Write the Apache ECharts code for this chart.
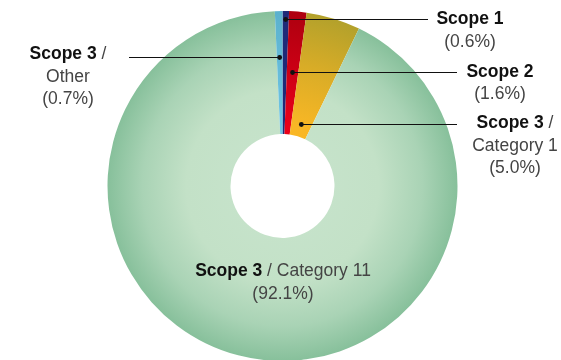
<!DOCTYPE html>
<html>
<head>
<meta charset="utf-8">
<script src="https://cdn.jsdelivr.net/npm/echarts@6/dist/echarts.min.js"></script>
<style>
  html, body { margin: 0; padding: 0; background: #ffffff; }
  #chart { width: 561px; height: 360px; }
</style>
</head>
<body>
<div id="chart"></div>
<script>
// Emission shares by scope (percent of total)
const sliceGroups = ['Scope 1', 'Scope 2', 'Scope 3', 'Scope 3', 'Scope 3'];
const sliceDetails = ['', '', 'Category 1', 'Category 11', 'Other'];
const sliceShares = [0.6, 1.6, 5.0, 92.1, 0.7];

// Ring geometry
const CX = 282.5, CY = 186, R_IN = 52, R_OUT = 175;

function radial(stops) {
  return {
    type: 'radial', x: CX, y: CY, r: R_OUT, global: true,
    colorStops: stops.map(s => ({ offset: s[0], color: s[1] }))
  };
}

const sliceColors = [
  '#1f2a78',
  radial([[0, '#ee0018'], [0.35, '#e8001a'], [1, '#ad000f']]),
  radial([[0, '#fbb924'], [0.35, '#f9b725'], [0.7, '#d8ac27'], [1, '#b3a12b']]),
  radial([[0, '#c8e4cd'], [0.55, '#c3e1c7'], [0.8, '#a9d3b5'], [1, '#87c09b']]),
  radial([[0, '#74c8e6'], [0.35, '#70c5e4'], [1, '#5bb1cd']])
];

// Label block placement: block centre x, top y, leader-line y and far end x
const labelSpots = [
  { x: 470, top: 8.3, lineY: 19, lineEnd: 428, wrap: false },
  { x: 500, top: 60.8, lineY: 72, lineEnd: 457, wrap: false },
  { x: 515, top: 112.3, lineY: 124, lineEnd: 457, wrap: true },
  { x: 283, top: 260.3, lineY: null, lineEnd: null, wrap: false },
  { x: 68, top: 43.3, lineY: 57, lineEnd: 129, wrap: true }
];

const START = 90; // degrees, slices run clockwise from 12 o'clock
const total = sliceShares.reduce((a, b) => a + b, 0);

// Mid angle of a slice, measured clockwise from 12 o'clock (degrees)
function midAngle(i) {
  let before = 0;
  for (let k = 0; k < i; k++) before += sliceShares[k];
  const mid = before + sliceShares[i] / 2;
  let a = mid / total * 360;
  if (a > 180) a -= 360;
  return a;
}

// Point on the slice's mid ray at the height of its leader line
function anchorOf(i) {
  const spot = labelSpots[i];
  const a = midAngle(i) * Math.PI / 180;
  return [CX + (CY - spot.lineY) * Math.tan(a), spot.lineY];
}

function labelText(i) {
  const pct = '{n|(' + sliceShares[i].toFixed(1) + '%)}';
  const head = '{b|' + sliceGroups[i] + '}';
  if (!sliceDetails[i]) return head + '\n' + pct;
  if (labelSpots[i].wrap) return head + '{r| /}\n{r|' + sliceDetails[i] + '}\n' + pct;
  return head + '{r| / ' + sliceDetails[i] + '}\n' + pct;
}

const FONT = '"Liberation Sans", Arial, Helvetica, sans-serif';
const LH = 22.5;

// Leader lines with a dot where they enter their slice
const leaders = [];
sliceShares.forEach((v, i) => {
  const spot = labelSpots[i];
  if (spot.lineY == null) return;
  const p = anchorOf(i);
  leaders.push({
    type: 'line', z: 100, silent: true,
    shape: { x1: p[0], y1: spot.lineY + 0.5, x2: spot.lineEnd, y2: spot.lineY + 0.5 },
    style: { stroke: '#111111', lineWidth: 1 }
  });
  leaders.push({
    type: 'circle', z: 101, silent: true,
    shape: { cx: p[0], cy: p[1] + 0.5, r: 2.4 },
    style: { fill: '#111111' }
  });
});

const chart = echarts.init(document.getElementById('chart'), null, { renderer: 'canvas' });
chart.setOption({
  animation: false,
  backgroundColor: '#ffffff',
  graphic: leaders,
  series: [{
    type: 'pie',
    center: [CX, CY],
    radius: [R_IN, R_OUT],
    startAngle: START,
    clockwise: true,
    avoidLabelOverlap: false,
    silent: true,
    itemStyle: { borderWidth: 0 },
    data: sliceShares.map((v, i) => ({
      name: sliceGroups[i] + (sliceDetails[i] ? ' / ' + sliceDetails[i] : ''),
      value: v,
      itemStyle: { color: sliceColors[i] }
    })),
    label: {
      show: true,
      position: 'outside',
      formatter: p => labelText(p.dataIndex),
      rich: {
        b: { fontFamily: FONT, fontSize: 17.5, fontWeight: 'bold', color: '#111111', lineHeight: LH },
        r: { fontFamily: FONT, fontSize: 17.5, color: '#444444', lineHeight: LH },
        n: { fontFamily: FONT, fontSize: 17.5, color: '#444444', lineHeight: LH }
      }
    },
    labelLine: { show: false },
    labelLayout: params => {
      const spot = labelSpots[params.dataIndex];
      return { x: spot.x, y: spot.top, align: 'center', verticalAlign: 'top' };
    }
  }]
});
</script>
</body>
</html>
